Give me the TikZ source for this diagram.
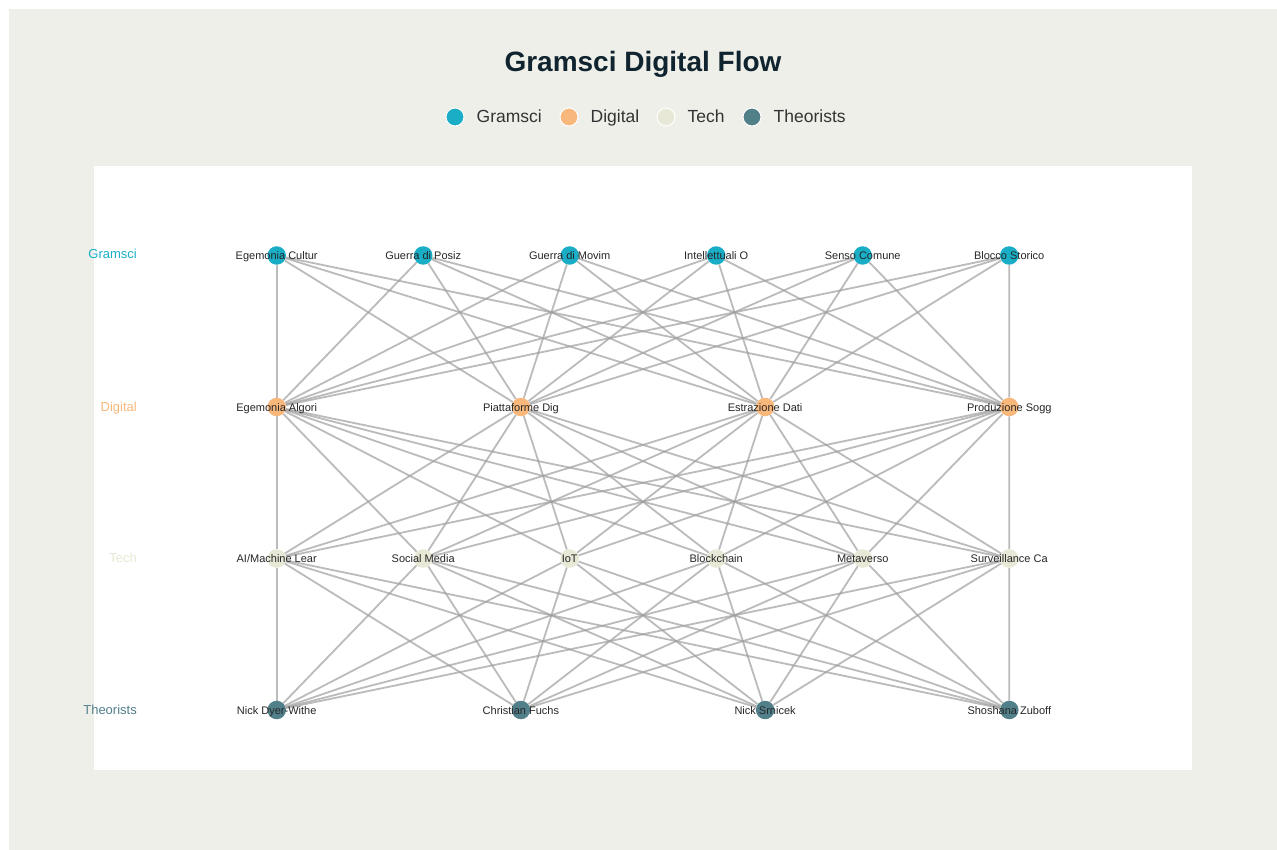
\documentclass[tikz,border=0pt]{standalone}
\usepackage{fontspec}
\setmainfont{Liberation Sans}
\usetikzlibrary{positioning}
\definecolor{col_g}{HTML}{1AAEC6}
\definecolor{col_d}{HTML}{F9B87B}
\definecolor{col_t}{HTML}{E8E8D6}
\definecolor{col_p}{HTML}{52808A}
\definecolor{col_panel}{HTML}{EFEFE9}
\definecolor{col_title}{HTML}{10242F}
\pgfdeclarelayer{back}
\pgfdeclarelayer{links}
\pgfsetlayers{back,links,main}
\tikzset{
	dot/.style = {circle, inner sep=0pt, minimum size=18.5pt},
	dot_g/.style = {dot, fill=col_g},% gramsci
	dot_d/.style = {dot, fill=col_d},% digital
	dot_t/.style = {dot, fill=col_t},% tech
	dot_p/.style = {dot, fill=col_p},% theorists
	dot_lbl/.style = {anchor=base, inner sep=0pt, text=black!85,
		font=\fontsize{11}{13}\selectfont},
	lyr/.style = {anchor=base east, inner sep=0pt,
		font=\fontsize{13}{15}\selectfont},
	key/.style = {circle, inner sep=0pt, minimum size=18pt, draw=white,
		line width=1pt},
	key_txt/.style = {inner sep=0pt, anchor=base west, text=black!80,
		font=\fontsize{17.5}{20}\selectfont},
	link/.style = {draw=gray!75, line width=1.8pt, opacity=0.7}
}
\begin{document}
\begin{tikzpicture}[x=1pt, y=-1pt]
\useasboundingbox (0,0) rectangle (1277,850);
\begin{pgfonlayer}{back}
\fill[white] (0,0) rectangle (1277,850);
\fill[col_panel] (9,9) rectangle (1277,850);
\fill[white] (94,166) rectangle (1192,770);
\end{pgfonlayer}

\node[anchor=base, inner sep=0pt, text=col_title,
	font=\bfseries\fontsize{28}{32}\selectfont] (title) at (643,72) {Gramsci Digital Flow};

% legend
\foreach \x/\c/\t [count=\k] in {455/col_g/Gramsci, 569/col_d/Digital,
		666/col_t/Tech, 752/col_p/Theorists} {
	\node[key, fill=\c] (key\k) at (\x,117) {};
	\node[key_txt] at ([xshift=12pt, yshift=-6pt]key\k.east) {\t};
}

% layer names
\foreach \y/\t/\c in {259/Gramsci/col_g, 411/Digital/col_d,
		562/Tech/col_t, 714/Theorists/col_p}
	\node[lyr, text=\c] at (137,\y) {\t};

% nodes
\foreach \t [count=\i] in {Egemonia Cultur, Guerra di Posiz, Guerra di Movim,
		Intellettuali O, Senso Comune, Blocco Storico} {
	\node[dot_g] (g\i) at (276.7+146.5*\i-146.5,255.5) {};
	\node[dot_lbl] at ([yshift=-4pt]g\i) {\t};
}
\foreach \t [count=\i] in {Egemonia Algori, Piattaforme Dig, Estrazione Dati,
		Produzione Sogg} {
	\node[dot_d] (d\i) at (276.7+244.2*\i-244.2,407) {};
	\node[dot_lbl] at ([yshift=-4pt]d\i) {\t};
}
\foreach \t [count=\i] in {{AI/Machine Lear}, Social Media, IoT, Blockchain,
		Metaverso, Surveillance Ca} {
	\node[dot_t] (t\i) at (276.7+146.5*\i-146.5,558.5) {};
	\node[dot_lbl] at ([yshift=-4pt]t\i) {\t};
}
\foreach \t [count=\i] in {Nick Dyer-Withe, Christian Fuchs, Nick Srnicek,
		Shoshana Zuboff} {
	\node[dot_p] (p\i) at (276.7+244.2*\i-244.2,710) {};
	\node[dot_lbl] at ([yshift=-4pt]p\i) {\t};
}

% links between neighbouring layers
\begin{pgfonlayer}{links}
\foreach \i in {1,...,6}
	\foreach \j in {1,...,4} {
		\draw[link] (g\i) -- (d\j);
		\draw[link] (t\i) -- (p\j);
		\draw[link] (d\j) -- (t\i);
	}
\end{pgfonlayer}
\end{tikzpicture}
\end{document}
